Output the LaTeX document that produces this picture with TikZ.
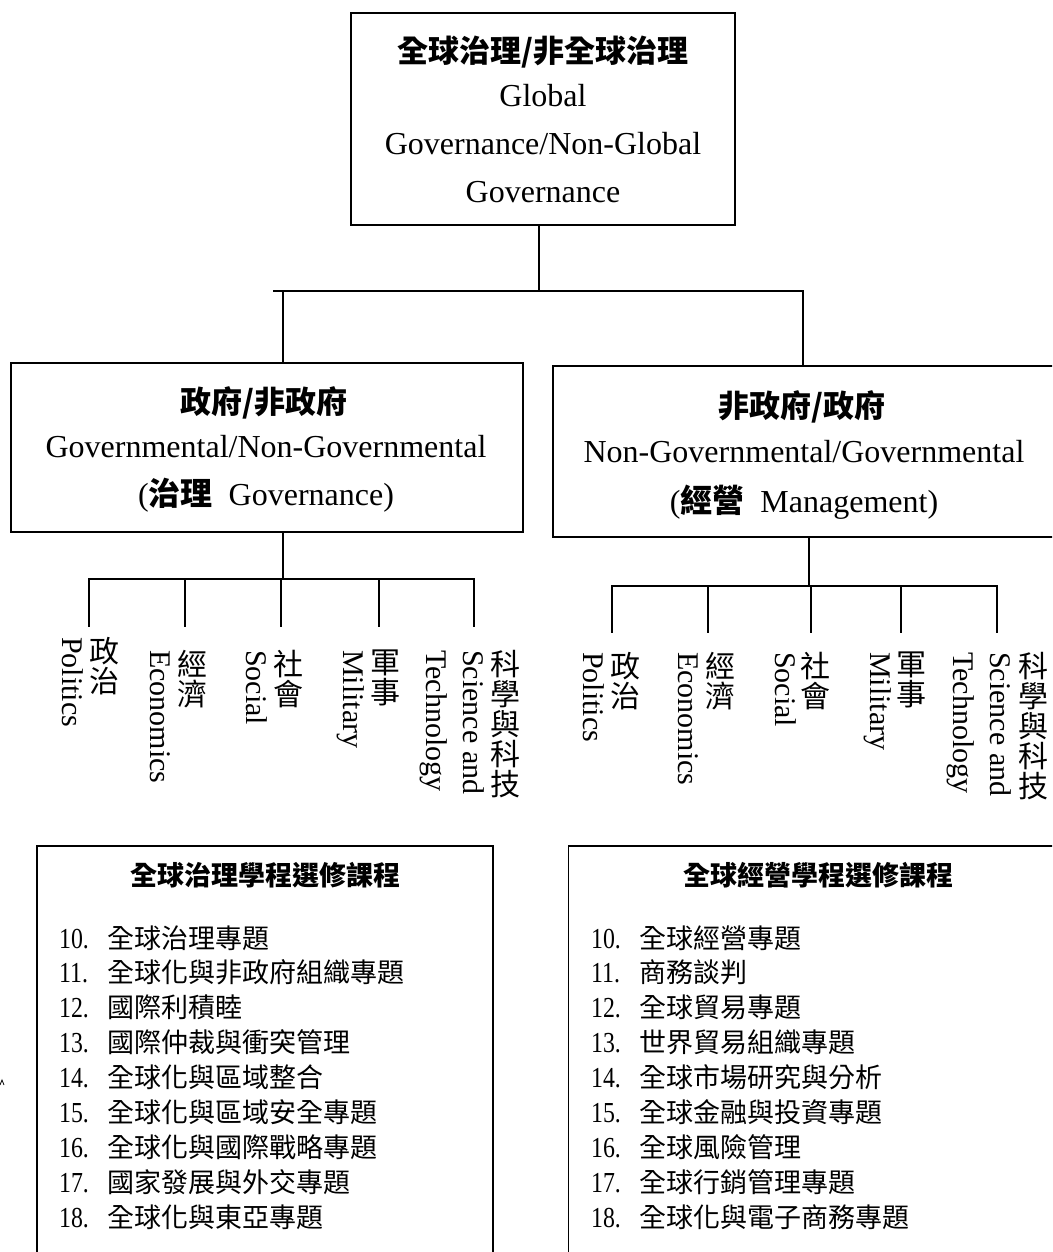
\documentclass[tikz,border=0pt]{standalone}
\usepackage{fontspec}
\setmainfont{Liberation Serif}
\newfontfamily\cjk{Noto Sans CJK TC}
\newfontfamily\numf{Liberation Serif}[FakeStretch=0.82]
\begin{document}
\begin{tikzpicture}[x=1pt,y=-1pt,
  boxline/.style={draw, line width=1.4pt, inner sep=0pt, rectangle},
  conn/.style={line width=1.4pt, line cap=rect},
  latb/.style={font=\fontsize{32}{38}\selectfont, inner sep=0pt, anchor=base},
  cjkb/.style={font=\cjk\bfseries\fontsize{31}{38}\selectfont, inner sep=0pt, anchor=base},
  cjkv/.style={font=\cjk\fontsize{30}{30}\selectfont, inner sep=0pt, anchor=north, align=center},
  latv/.style={font=\fontsize{30}{30}\selectfont, inner sep=0pt, anchor=base west, rotate=-90},
  ltitle/.style={font=\cjk\bfseries\fontsize{27}{30}\selectfont, inner sep=0pt, anchor=base},
  numlab/.style={font=\numf\fontsize{29}{30}\selectfont, inner sep=0pt, anchor=base west},
  itemlab/.style={font=\cjk\fontsize{27}{30}\selectfont, inner sep=0pt, anchor=base west}]
\useasboundingbox (0,0) rectangle (1052,1252);
\clip (0,0) rectangle (1052,1252);
\fill[white] (0,0) rectangle (1052,1252);

% ---------- top box ----------
\node[boxline, minimum width=384pt, minimum height=212pt] (top) at (543,119) {};
\node[cjkb] (topt) at (543,63) {全球治理/非全球治理};
\node[latb] (topl1) at (543,107) {Global};
\node[latb] (topl2) at (543,155) {Governance/Non-Global};
\node[latb] (topl3) at (543,203) {Governance};

% ---------- second level boxes ----------
\node[boxline, minimum width=512pt, minimum height=169pt] (gov) at (267,447.5) {};
\node[cjkb] (govt) at (264,413) {政府/非政府};
\node[latb] (govl1) at (266,457) {Governmental/Non-Governmental};
\node[latb] (govl2) at (266,505) {(\hbox{\cjk\bfseries 治理}\ \ Governance)};

\node[boxline, minimum width=503pt, minimum height=171pt] (ngo) at (804.5,451.5) {};
\node[cjkb] (ngot) at (802,417) {非政府/政府};
\node[latb] (ngol1) at (804,462) {Non-Governmental/Governmental};
\node[latb] (ngol2) at (804,512) {(\hbox{\cjk\bfseries 經營}\ \ Management)};

% ---------- top connectors ----------
\coordinate (j0) at (539,291);
\coordinate (hl0) at (274,291);
\coordinate (jl) at (283,291);
\coordinate (jr) at (803,291);
\draw[conn] (top.south -| j0) -- (j0);
\draw[conn] (hl0) -- (jr);
\draw[conn] (jl) -- (jl |- gov.north);
\draw[conn] (jr) -- (jr |- ngo.north);

% ---------- left branch ----------
\coordinate (lb) at (283,579);
\draw[conn] (gov.south -| lb) -- (lb);
\foreach \x [count=\n] in {89,185,281,379,474} {
  \coordinate (la\n) at (\x,579);
  \coordinate (lz\n) at (\x,626);
  \draw[conn] (la\n) -- (lz\n);
}
\draw[conn] (la1) -- (la5);

\node[cjkv] (lc1) at (104.5,637) {政\\治};
\node[latv] (lp1) at (62,637) {Politics};
\node[cjkv] (lc2) at (192,650) {經\\濟};
\node[latv] (lp2) at (150,650) {Economics};
\node[cjkv] (lc3) at (288.5,650) {社\\會};
\node[latv] (lp3) at (246,650) {Social};
\node[cjkv] (lc4) at (385,650) {軍\\事};
\node[latv] (lp4) at (343,650) {Military};
\node[cjkv] (lc5) at (505,650) {科\\學\\與\\科\\技};
\node[latv] (lp5) at (463,650) {Science and};
\node[latv] (lq5) at (426,650) {Technology};

% ---------- right branch ----------
\coordinate (rb) at (809,586);
\draw[conn] (ngo.south -| rb) -- (rb);
\foreach \x [count=\n] in {612,708,811,901,997} {
  \coordinate (ra\n) at (\x,586);
  \coordinate (rz\n) at (\x,632);
  \draw[conn] (ra\n) -- (rz\n);
}
\draw[conn] (ra1) -- (ra5);

\node[cjkv] (rc1) at (625,652) {政\\治};
\node[latv] (rp1) at (583,652) {Politics};
\node[cjkv] (rc2) at (720,652) {經\\濟};
\node[latv] (rp2) at (678,652) {Economics};
\node[cjkv] (rc3) at (815,652) {社\\會};
\node[latv] (rp3) at (775,652) {Social};
\node[cjkv] (rc4) at (911,652) {軍\\事};
\node[latv] (rp4) at (870,652) {Military};
\node[cjkv] (rc5) at (1033,652) {科\\學\\與\\科\\技};
\node[latv] (rp5) at (990,652) {Science and};
\node[latv] (rq5) at (953,652) {Technology};

% ---------- course lists ----------
\node[boxline, minimum width=456pt, minimum height=430pt] (gl) at (265,1061) {};
\node[ltitle] (glt) at (265,885) {全球治理學程選修課程};
\foreach \t [count=\i from 0] in {全球治理專題,全球化與非政府組織專題,國際利積睦,國際仲裁與衝突管理,全球化與區域整合,全球化與區域安全專題,全球化與國際戰略專題,國家發展與外交專題,全球化與東亞專題} {
  \pgfmathsetmacro\yy{948+34.9*\i}
  \pgfmathtruncatemacro\nn{10+\i}
  \node[numlab] (gn\i) at (59,\yy) {\nn.};
  \node[itemlab] (gi\i) at (107,\yy) {\t};
}

\node[boxline, minimum width=502pt, minimum height=430pt] (ml) at (819.5,1061) {};
\node[ltitle] (mlt) at (818,885) {全球經營學程選修課程};
\foreach \t [count=\i from 0] in {全球經營專題,商務談判,全球貿易專題,世界貿易組織專題,全球市場研究與分析,全球金融與投資專題,全球風險管理,全球行銷管理專題,全球化與電子商務專題} {
  \pgfmathsetmacro\yy{948+34.9*\i}
  \pgfmathtruncatemacro\nn{10+\i}
  \node[numlab] (mn\i) at (591,\yy) {\nn.};
  \node[itemlab] (mi\i) at (639,\yy) {\t};
}

% small stray mark at the left edge
\draw[line width=0.8pt] (0,1085) -- (2,1080) -- (4,1085);
\end{tikzpicture}
\end{document}
